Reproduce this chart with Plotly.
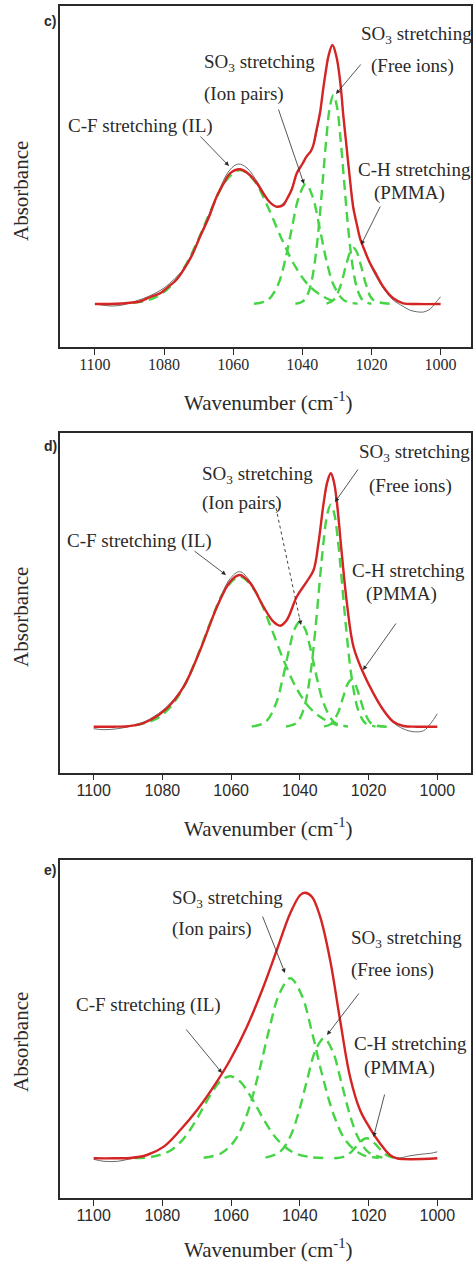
import math
import plotly.graph_objects as go

# ---------------- data (wavenumber in cm-1, absorbance in a.u.) ----------------
TICK_VALS = [1100, 1080, 1060, 1040, 1020, 1000]

# Panel c
c_fit_wn = [1100, 1096, 1092, 1089, 1087, 1084, 1081, 1079.3, 1076.5, 1074.4, 1072, 1069.6, 1067, 1064.8, 1062.5,
            1060.9, 1058, 1055.2, 1053, 1051.3, 1049.5, 1047.4, 1045.5, 1044.6, 1043, 1041.6, 1040, 1038.8, 1037.5,
            1036.8, 1035.9, 1034.9, 1034, 1033, 1032.5, 1031.3, 1030.1, 1029.1, 1028.6, 1028.2, 1027.2, 1026.2,
            1025.3, 1024.3, 1023.3, 1022.4, 1020.4, 1018.5, 1016.6, 1013.7, 1010.8, 1007, 1000]
c_fit = [0, 0, 0.005, 0.015, 0.025, 0.07, 0.11, 0.157, 0.24, 0.34, 0.48, 0.673, 0.87, 1.073, 1.22,
         1.307, 1.347, 1.29, 1.2, 1.107, 1.02, 0.973, 0.99, 1.04, 1.15, 1.307, 1.40, 1.473, 1.53,
         1.59, 1.74, 1.907, 2.14, 2.373, 2.47, 2.59, 2.47, 2.24, 2.07, 1.907, 1.573, 1.24,
         0.973, 0.807, 0.657, 0.573, 0.407, 0.29, 0.173, 0.057, 0.007, 0, 0]
c_meas_wn = [1100, 1098, 1095, 1092, 1089, 1086, 1083, 1080, 1077, 1074.4, 1069.6, 1064.8, 1061, 1058.5, 1056,
             1053, 1049.5, 1047.4, 1044.6, 1041.6, 1038.8, 1036.8, 1034.9, 1033, 1031.3, 1029.6, 1028.2, 1026.2,
             1024.3, 1022.4, 1019.5, 1016.6, 1013.7, 1011, 1009, 1007, 1005, 1003, 1001.5, 1000]
c_meas = [0, -0.01, -0.02, -0.01, 0.02, 0.055, 0.1, 0.16, 0.25, 0.35, 0.68, 1.08, 1.34, 1.40, 1.36,
          1.22, 1.03, 0.975, 1.04, 1.30, 1.47, 1.59, 1.90, 2.37, 2.58, 2.37, 1.90, 1.24,
          0.80, 0.57, 0.33, 0.16, 0.04, -0.02, -0.06, -0.077, -0.08, -0.05, 0.01, 0.073]
c_cf_wn = [1089, 1085, 1082, 1078, 1074, 1070, 1066, 1062, 1058, 1054, 1050, 1046, 1042, 1038, 1034, 1030]
c_cf = [0.012, 0.035, 0.075, 0.181, 0.373, 0.652, 0.973, 1.237, 1.34, 1.237, 0.973, 0.652, 0.373, 0.181, 0.075, 0.015]
c_ip_wn = [1054, 1050, 1047, 1045, 1043, 1041, 1039, 1037, 1035, 1033, 1031, 1028, 1024]
c_ip = [0.002, 0.039, 0.196, 0.433, 0.763, 1.071, 1.2, 1.071, 0.763, 0.433, 0.196, 0.039, 0.002]
c_fi_wn = [1042, 1040, 1039, 1038, 1037, 1036, 1035, 1034, 1033, 1032, 1031, 1030, 1029, 1028, 1027, 1026,
           1025, 1024, 1023, 1022, 1020]
c_fi = [0.003, 0.023, 0.06, 0.137, 0.283, 0.521, 0.859, 1.268, 1.674, 1.977, 2.09, 1.977, 1.674, 1.268, 0.859,
        0.521, 0.283, 0.137, 0.06, 0.023, 0.003]
c_ch_wn = [1033, 1031, 1029, 1027.5, 1026, 1025.2, 1024.4, 1023, 1021.5, 1019.5, 1013.5]
c_ch = [0.004, 0.038, 0.176, 0.367, 0.532, 0.56, 0.532, 0.38, 0.187, 0.041, 0]

# Panel d
d_fit_wn = [1100, 1094, 1090, 1087, 1083.5, 1078.7, 1073.8, 1069, 1064.1, 1060.3, 1057.5, 1054.4, 1050.6, 1047.7,
            1045.7, 1043.8, 1040.9, 1038, 1036, 1034.6, 1033.1, 1032, 1031, 1030.1, 1029.3, 1027.8, 1026.3, 1024.4,
            1021.5, 1018.6, 1015.7, 1012.8, 1009.9, 1006, 1000]
d_fit = [0, 0, 0.005, 0.02, 0.067, 0.184, 0.40, 0.767, 1.20, 1.45, 1.517, 1.433, 1.20, 1.05,
         1.01, 1.067, 1.30, 1.45, 1.567, 1.834, 2.233, 2.45, 2.534, 2.45, 2.267, 1.733, 1.233, 0.80,
         0.534, 0.334, 0.167, 0.05, 0.007, 0, 0]
d_meas_wn = [1100, 1097, 1093, 1090, 1086, 1083.5, 1078.7, 1073.8, 1069, 1064.1, 1060.3, 1057.5, 1054.4, 1050.6,
             1047.7, 1045.7, 1043.8, 1040.9, 1038, 1036, 1034.6, 1033.1, 1031, 1029.3, 1027.8, 1026.3, 1024.4,
             1021.5, 1018.6, 1015.7, 1012.8, 1010, 1007, 1004, 1002, 1000]
d_meas = [-0.02, -0.03, -0.02, 0, 0.04, 0.08, 0.20, 0.41, 0.77, 1.21, 1.48, 1.55, 1.45, 1.20,
          1.05, 1.01, 1.07, 1.30, 1.45, 1.57, 1.83, 2.23, 2.53, 2.27, 1.73, 1.23, 0.80,
          0.53, 0.33, 0.16, 0.04, -0.02, -0.05, -0.04, 0.03, 0.13]
d_cf_wn = [1088, 1082, 1078, 1074, 1070, 1066, 1062, 1057.5, 1053, 1049, 1045, 1041, 1037, 1033, 1029]
d_cf = [0.014, 0.075, 0.184, 0.385, 0.688, 1.045, 1.356, 1.5, 1.356, 1.045, 0.688, 0.385, 0.184, 0.075, 0.014]
d_ip_wn = [1054, 1050, 1047, 1045, 1043, 1041.5, 1040, 1038.5, 1037, 1035, 1033, 1030, 1026]
d_ip = [0.002, 0.046, 0.227, 0.481, 0.793, 0.979, 1.05, 0.979, 0.793, 0.481, 0.227, 0.046, 0.002]
d_fi_wn = [1044, 1041, 1039, 1037, 1035.5, 1034, 1033, 1032, 1031, 1030, 1029, 1028, 1026.5, 1025, 1023, 1021, 1018]
d_fi = [0.002, 0.037, 0.163, 0.51, 0.971, 1.538, 1.886, 2.131, 2.22, 2.131, 1.886, 1.538, 0.971, 0.51, 0.163,
        0.037, 0.002]
d_ch_wn = [1033, 1031, 1029, 1027.5, 1026, 1025, 1024, 1022.5, 1021, 1019, 1013.5]
d_ch = [0.003, 0.026, 0.131, 0.285, 0.434, 0.47, 0.434, 0.285, 0.131, 0.026, 0]

# Panel e
e_fit_wn = [1100, 1094, 1089.3, 1084.5, 1079.6, 1074.8, 1069.9, 1065.1, 1060.3, 1055.4, 1050.6, 1046.7, 1042.8,
            1039.9, 1038.5, 1036.5, 1034.1, 1031.2, 1028.3, 1025.4, 1022.5, 1019.6, 1016.7, 1013.8, 1011.8, 1000]
e_fit = [0, 0, 0.003, 0.033, 0.117, 0.283, 0.483, 0.716, 0.983, 1.316, 1.716, 2.083, 2.45,
         2.633, 2.656, 2.616, 2.416, 1.983, 1.383, 0.816, 0.483, 0.30, 0.15, 0.033, 0, 0]
e_meas_wn = [1100, 1097, 1093, 1090, 1087, 1084.5, 1079.6, 1074.8, 1069.9, 1065.1, 1060.3, 1055.4, 1050.6, 1046.7,
             1042.8, 1039.9, 1038.5, 1036.5, 1034.1, 1031.2, 1028.3, 1025.4, 1022.5, 1019.6, 1016.7, 1013.8, 1011,
             1008, 1005, 1002, 1000]
e_meas = [-0.01, -0.03, -0.03, -0.01, 0.01, 0.033, 0.117, 0.283, 0.483, 0.716, 0.983, 1.316, 1.716, 2.083,
          2.45, 2.633, 2.656, 2.616, 2.416, 1.983, 1.383, 0.816, 0.483, 0.30, 0.15, 0.033, 0.005,
          0.025, 0.04, 0.05, 0.065]
e_cf_wn = [1088, 1083, 1078, 1074, 1070, 1066.5, 1063, 1060.3, 1057.5, 1054, 1050.5, 1046.5, 1042, 1037, 1032]
e_cf = [0.002, 0.015, 0.071, 0.189, 0.393, 0.607, 0.775, 0.82, 0.771, 0.601, 0.387, 0.185, 0.06, 0.012, 0.002]
e_ip_wn = [1068, 1063, 1059, 1055.5, 1052, 1049, 1046, 1042.8, 1039.5, 1036.5, 1033.5, 1030, 1026.5, 1022, 1017]
e_ip = [0.006, 0.048, 0.175, 0.429, 0.849, 1.279, 1.643, 1.80, 1.634, 1.265, 0.835, 0.42, 0.17, 0.038, 0.005]
e_fi_wn = [1050, 1046, 1043, 1040.5, 1038, 1035.5, 1033, 1030.5, 1028, 1025.5, 1023, 1020, 1016]
e_fi = [0.007, 0.059, 0.203, 0.441, 0.769, 1.074, 1.2, 1.074, 0.769, 0.441, 0.203, 0.059, 0.007]
e_ch_wn = [1030, 1027, 1025, 1023, 1021.5, 1020.5, 1019.5, 1018, 1016, 1014, 1011]
e_ch = [0.001, 0.019, 0.065, 0.141, 0.189, 0.2, 0.189, 0.141, 0.065, 0.019, 0.001]

# ---------------- layout helpers ----------------
W, H = 473, 1265
SERIF = "Liberation Serif, Times New Roman, serif"
SANS = "Liberation Sans, Arial, sans-serif"
RED = "#d42424"
GREEN = "#44d444"
GRAY = "#6a6a6a"
INK = "#2a2a2a"


def px(x):
    return x / W


def py(y):
    return 1 - y / H


panels = [
    dict(key="", fit=(c_fit_wn, c_fit), meas=(c_meas_wn, c_meas),
         comps=[(c_cf_wn, c_cf), (c_ip_wn, c_ip), (c_fi_wn, c_fi), (c_ch_wn, c_ch)],
         xr=[1110.1, 991.2], yr=[-0.43, 2.98], top=6, bottom=347, tickfont=SERIF, label="c)", label_y=21,
         absorb_y=191, title_off=55),
    dict(key="2", fit=(d_fit_wn, d_fit), meas=(d_meas_wn, d_meas),
         comps=[(d_cf_wn, d_cf), (d_ip_wn, d_ip), (d_fi_wn, d_fi), (d_ch_wn, d_ch)],
         xr=[1109.8, 990.2], yr=[-0.458, 2.937], top=433, bottom=772.5, tickfont=SANS, label="d)",
         label_y=446, absorb_y=617, title_off=55),
    dict(key="3", fit=(e_fit_wn, e_fit), meas=(e_meas_wn, e_meas),
         comps=[(e_cf_wn, e_cf), (e_ip_wn, e_ip), (e_fi_wn, e_fi), (e_ch_wn, e_ch)],
         xr=[1109.8, 990.2], yr=[-0.397, 2.983], top=860, bottom=1198, tickfont=SANS, label="e)",
         label_y=870, absorb_y=1042, title_off=50),
]

fig = go.Figure()
annotations = []
shapes = []
layout_axes = {}

for p in panels:
    xa, ya = "x" + p["key"], "y" + p["key"]
    for wn, val in p["comps"]:
        fig.add_trace(go.Scatter(x=wn, y=val, xaxis=xa, yaxis=ya, mode="lines",
                                 line=dict(color=GREEN, width=2.4, dash="10px,6px", shape="spline", smoothing=1.0),
                                 showlegend=False, hoverinfo="skip"))
    fig.add_trace(go.Scatter(x=p["meas"][0], y=p["meas"][1], xaxis=xa, yaxis=ya, mode="lines",
                             line=dict(color=GRAY, width=1.0, shape="spline", smoothing=1.0),
                             showlegend=False, hoverinfo="skip"))
    fig.add_trace(go.Scatter(x=p["fit"][0], y=p["fit"][1], xaxis=xa, yaxis=ya, mode="lines",
                             line=dict(color=RED, width=2.4, shape="spline", smoothing=1.0),
                             showlegend=False, hoverinfo="skip"))

    layout_axes["xaxis" + p["key"]] = dict(
        domain=[px(60), px(471)], range=p["xr"], anchor=ya, tickvals=TICK_VALS,
        ticks="outside", ticklen=6, tickwidth=1.2, tickcolor=INK,
        showline=True, linecolor=INK, linewidth=1.6, mirror=True, showgrid=False, zeroline=False,
        tickfont=dict(family=p["tickfont"], size=16, color=INK), ticklabelstandoff=-4)
    layout_axes["yaxis" + p["key"]] = dict(
        domain=[py(p["bottom"]), py(p["top"])], range=p["yr"], anchor=xa,
        showline=True, linecolor=INK, linewidth=1.6, mirror=True, showgrid=False, zeroline=False,
        showticklabels=False, ticks="")

    annotations.append(dict(text="Wavenumber (cm<sup>-1</sup>)", x=px(268), y=py(p["bottom"] + p["title_off"]),
                            xref="paper", yref="paper", xanchor="center", yanchor="middle", showarrow=False,
                            font=dict(family=SERIF, size=21, color=INK)))
    annotations.append(dict(text="Absorbance", x=px(21), y=py(p["absorb_y"]), textangle=-90,
                            xref="paper", yref="paper", xanchor="center", yanchor="middle", showarrow=False,
                            font=dict(family=SERIF, size=21, color=INK)))
    annotations.append(dict(text="<b>" + p["label"] + "</b>", x=px(50), y=py(p["label_y"]),
                            xref="paper", yref="paper", xanchor="center", yanchor="middle", showarrow=False,
                            font=dict(family=SANS, size=14, color=INK)))


def label(text, xl, yc):
    annotations.append(dict(text=text, x=px(xl), y=py(yc), xref="paper", yref="paper",
                            xanchor="left", yanchor="middle", showarrow=False,
                            font=dict(family=SERIF, size=19, color=INK)))


def arrow(tail, head):
    annotations.append(dict(text="", x=px(head[0]), y=py(head[1]), xref="paper", yref="paper",
                            ax=tail[0] - head[0], ay=tail[1] - head[1], axref="pixel", ayref="pixel",
                            showarrow=True, arrowhead=2, arrowsize=1.1, arrowwidth=0.8, arrowcolor=INK))


SO3 = "SO<sub>3</sub> stretching"

# panel c
label("C-F stretching (IL)", 66, 126)
label(SO3, 202, 63)
label("(Ion pairs)", 202, 94)
label(SO3, 359, 35)
label("(Free ions)", 368.5, 66)
label("C-H stretching", 356, 169)
label("(PMMA)", 372, 193)
arrow((199, 135), (229, 166))
arrow((278, 108), (304, 184))
arrow((362, 63), (336, 94))
arrow((381, 205), (361, 245))

# panel d
label("C-F stretching (IL)", 65, 541)
label(SO3, 199.5, 475)
label("(Ion pairs)", 199.5, 503)
label(SO3, 357, 453)
label("(Free ions)", 366.5, 486)
label("C-H stretching", 350, 570)
label("(PMMA)", 364, 594)
arrow((193, 550), (226, 575))
arrow((359, 468), (335, 502))
arrow((397, 622), (363, 670))
# dotted arrow (Ion pairs)
t, h = (276, 508), (301, 625)
L = math.hypot(h[0] - t[0], h[1] - t[1])
ux, uy = (h[0] - t[0]) / L, (h[1] - t[1]) / L
shapes.append(dict(type="line", xref="paper", yref="paper", x0=px(t[0]), y0=py(t[1]),
                   x1=px(h[0] - 6 * ux), y1=py(h[1] - 6 * uy), line=dict(color=INK, width=0.9, dash="dot")))
arrow((h[0] - 9 * ux, h[1] - 9 * uy), h)

# panel e
label(SO3, 170, 899)
label("(Ion pairs)", 170, 929)
label(SO3, 348.5, 938.5)
label("(Free ions)", 348.5, 970)
label("C-F stretching (IL)", 74, 1005)
label("C-H stretching", 351.5, 1043.5)
label("(PMMA)", 361.5, 1068)
arrow((262, 915), (285, 973))
arrow((360, 992), (327, 1035))
arrow((185, 1028), (222, 1073))
arrow((385, 1093), (373.5, 1137))

fig.update_layout(width=W, height=H, margin=dict(l=0, r=0, t=0, b=0), autosize=False,
                  paper_bgcolor="white", plot_bgcolor="white", showlegend=False,
                  annotations=annotations, shapes=shapes, **layout_axes)

fig.write_html("out.html")
